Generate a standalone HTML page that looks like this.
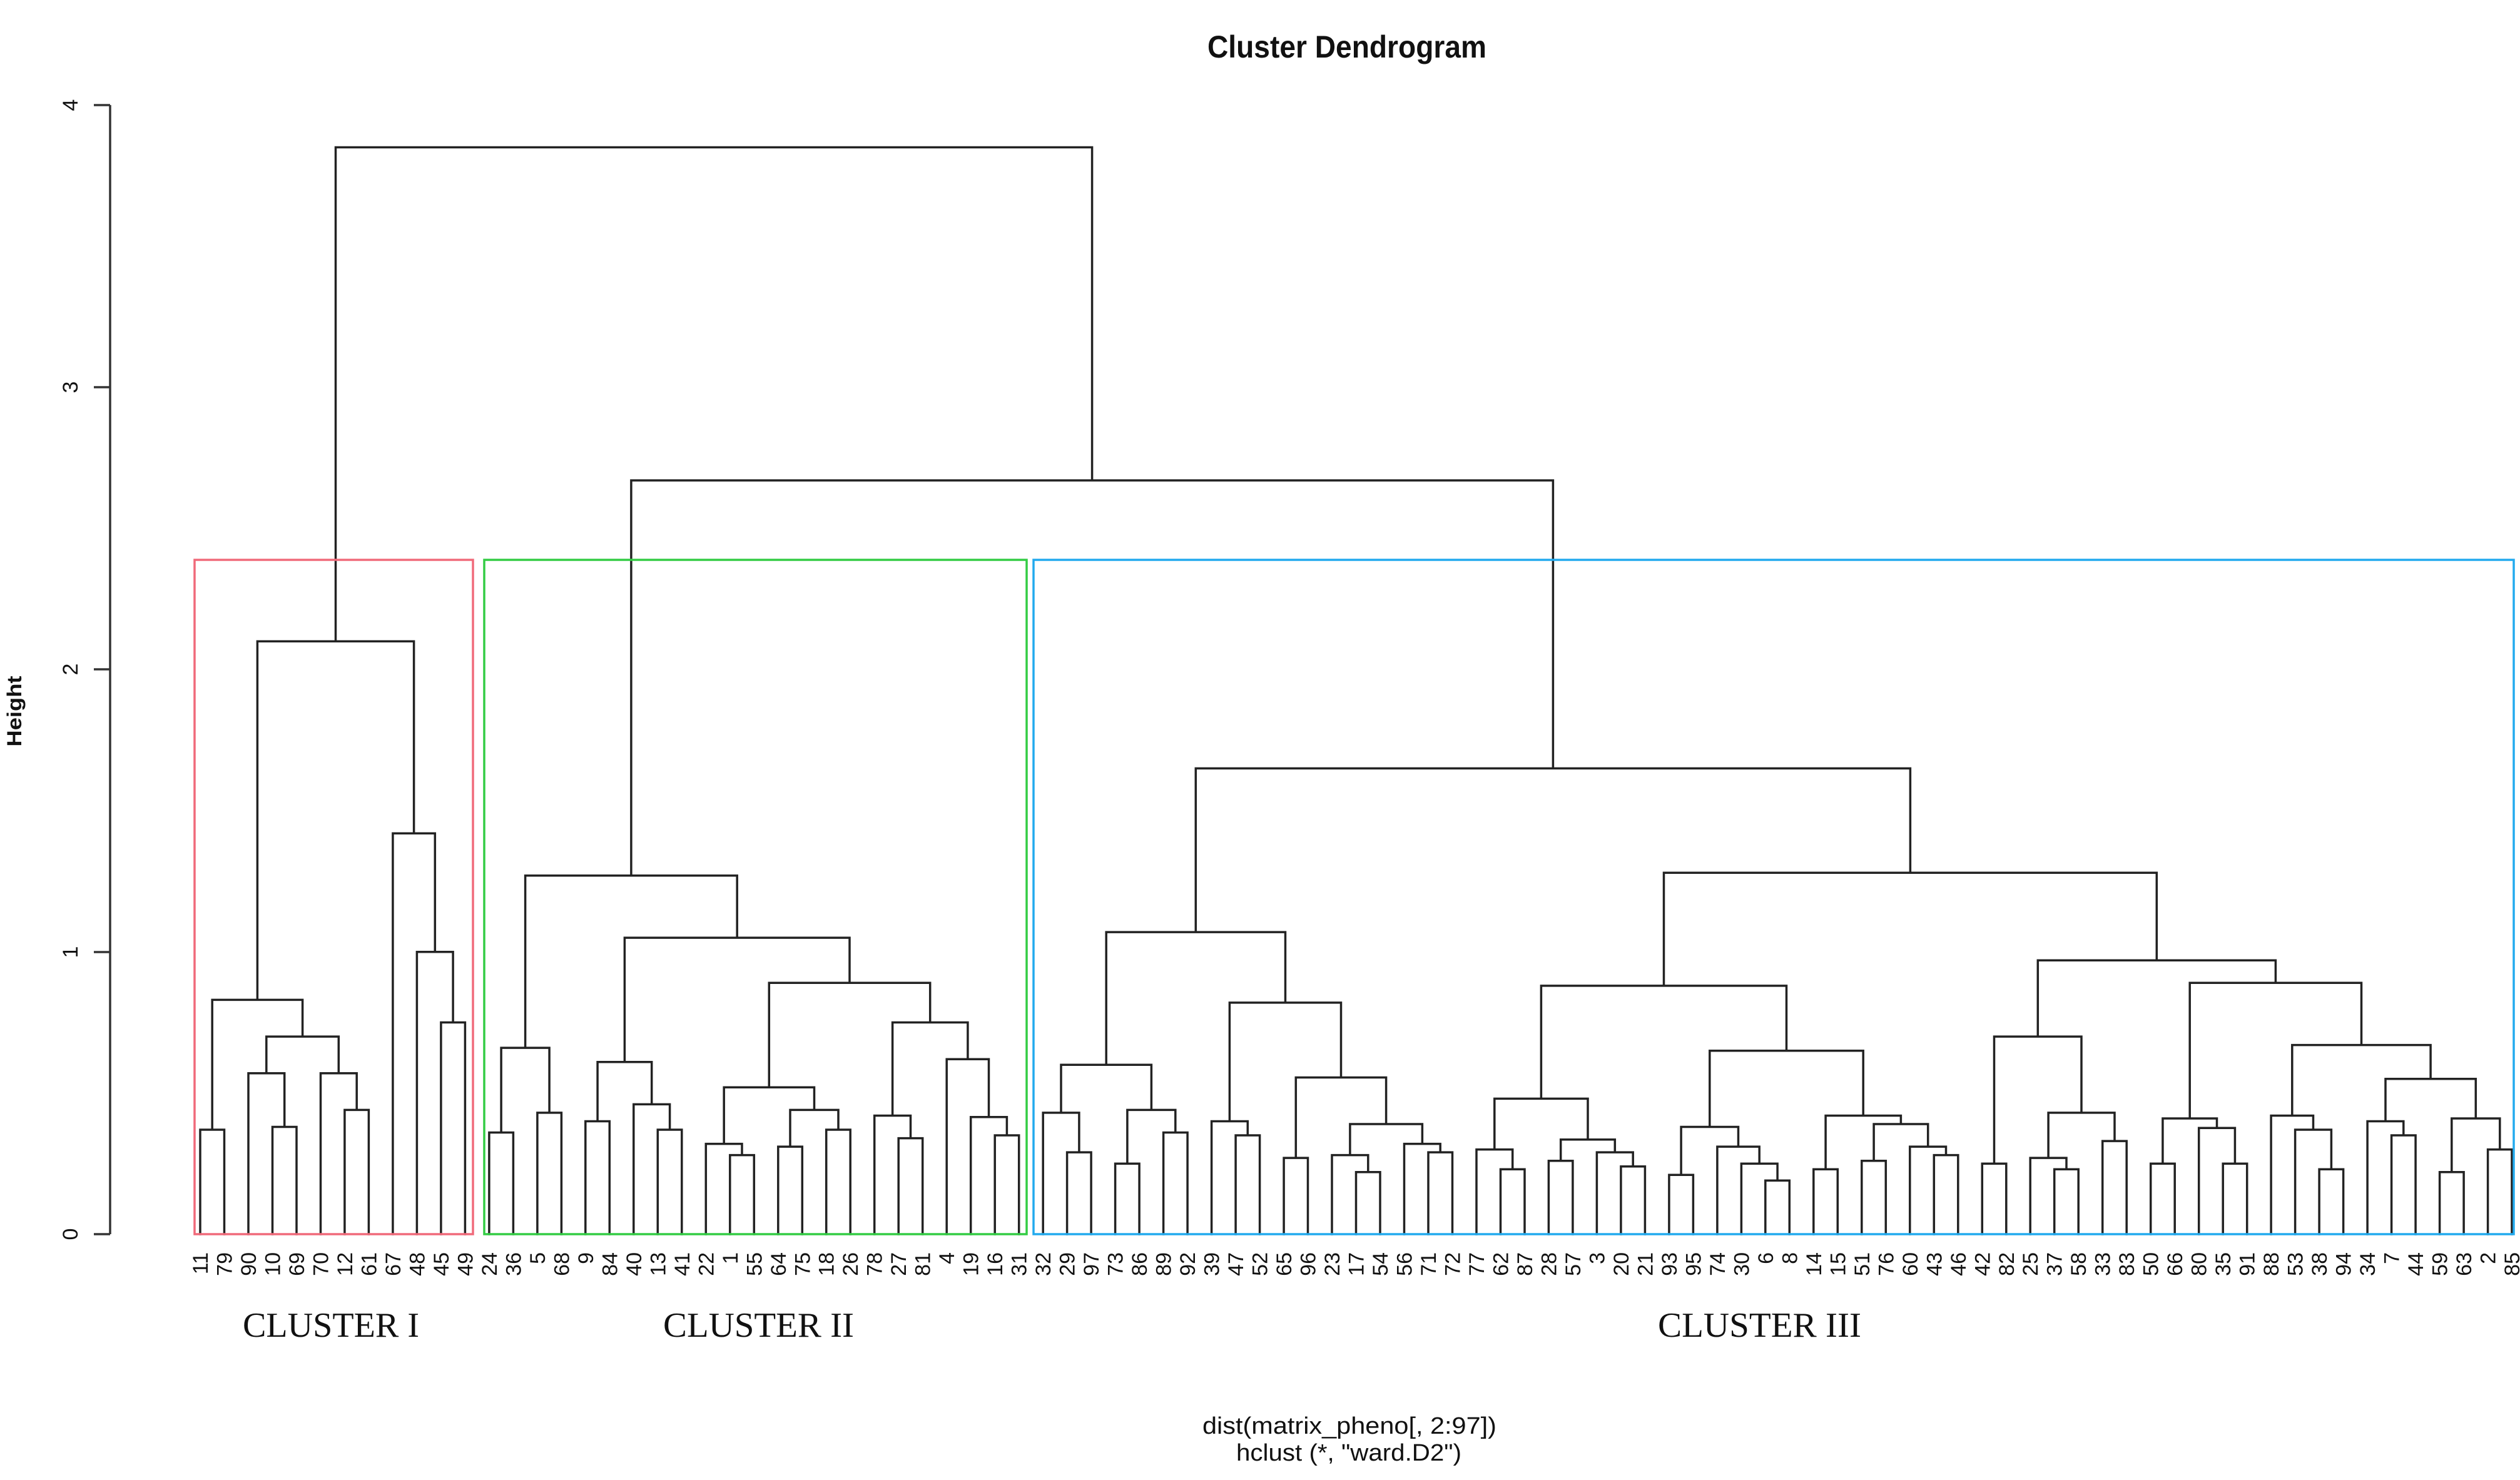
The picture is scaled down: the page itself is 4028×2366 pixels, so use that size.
<!DOCTYPE html>
<html><head><meta charset="utf-8">
<style>
html,body{margin:0;padding:0;background:#fff;}
svg{display:block;}
.lf{font-family:"Liberation Sans",sans-serif;font-size:34px;fill:#111;}
.ax{font-family:"Liberation Sans",sans-serif;font-size:34px;fill:#111;}
.cl{font-family:"Liberation Serif",serif;font-size:56px;fill:#111;}
</style></head>
<body>
<svg id="s" width="4028" height="2366" viewBox="0 0 4028 2366" xmlns="http://www.w3.org/2000/svg">
<rect width="4028" height="2366" fill="#fff"/>
<g id="tree" stroke="#222" stroke-width="3.5" fill="none" stroke-linecap="square"></g>
<rect x="311" y="895" width="445" height="1078" fill="none" stroke="#f06a7a" stroke-width="3.5"/>
<rect x="774" y="895" width="867" height="1078" fill="none" stroke="#33cc44" stroke-width="3.5"/>
<rect x="1652" y="895" width="2366" height="1078" fill="none" stroke="#22aaee" stroke-width="3.5"/>
<!-- axis -->
<g stroke="#333" stroke-width="3.5">
<line x1="176" y1="168" x2="176" y2="1973"/>
<line x1="150" y1="1973" x2="176" y2="1973"/>
<line x1="150" y1="1522" x2="176" y2="1522"/>
<line x1="150" y1="1070" x2="176" y2="1070"/>
<line x1="150" y1="619" x2="176" y2="619"/>
<line x1="150" y1="168" x2="176" y2="168"/>
</g>
<text class="ax" text-anchor="middle" transform="translate(124,1973) rotate(-90)">0</text>
<text class="ax" text-anchor="middle" transform="translate(124,1522) rotate(-90)">1</text>
<text class="ax" text-anchor="middle" transform="translate(124,1070) rotate(-90)">2</text>
<text class="ax" text-anchor="middle" transform="translate(124,619) rotate(-90)">3</text>
<text class="ax" text-anchor="middle" transform="translate(124,168) rotate(-90)">4</text>
<text font-family="Liberation Sans, sans-serif" font-size="32" font-weight="bold" text-anchor="middle" textLength="113" lengthAdjust="spacingAndGlyphs" transform="translate(34,1137) rotate(-90)" fill="#111">Height</text>
<text font-family="Liberation Sans, sans-serif" font-size="50" font-weight="bold" text-anchor="middle" x="2153" y="92" textLength="446" lengthAdjust="spacingAndGlyphs" fill="#111">Cluster Dendrogram</text>
<text font-family="Liberation Sans, sans-serif" font-size="38" text-anchor="middle" x="2157" y="2292" textLength="470" lengthAdjust="spacingAndGlyphs" fill="#111">dist(matrix_pheno[, 2:97])</text>
<text font-family="Liberation Sans, sans-serif" font-size="38" text-anchor="middle" x="2156" y="2335" textLength="360" lengthAdjust="spacingAndGlyphs" fill="#111">hclust (*, "ward.D2")</text>
<text class="cl" x="388" y="2137" textLength="282" lengthAdjust="spacingAndGlyphs">CLUSTER I</text>
<text class="cl" x="1060" y="2137" textLength="305" lengthAdjust="spacingAndGlyphs">CLUSTER II</text>
<text class="cl" x="2650" y="2137" textLength="325" lengthAdjust="spacingAndGlyphs">CLUSTER III</text>
<g id="labels">
<text class="lf" text-anchor="end">11</text><text class="lf" text-anchor="end">79</text><text class="lf" text-anchor="end">90</text><text class="lf" text-anchor="end">10</text><text class="lf" text-anchor="end">69</text><text class="lf" text-anchor="end">70</text><text class="lf" text-anchor="end">12</text><text class="lf" text-anchor="end">61</text><text class="lf" text-anchor="end">67</text><text class="lf" text-anchor="end">48</text><text class="lf" text-anchor="end">45</text><text class="lf" text-anchor="end">49</text>
<text class="lf" text-anchor="end">24</text><text class="lf" text-anchor="end">36</text><text class="lf" text-anchor="end">5</text><text class="lf" text-anchor="end">68</text><text class="lf" text-anchor="end">9</text><text class="lf" text-anchor="end">84</text><text class="lf" text-anchor="end">40</text><text class="lf" text-anchor="end">13</text><text class="lf" text-anchor="end">41</text><text class="lf" text-anchor="end">22</text><text class="lf" text-anchor="end">1</text><text class="lf" text-anchor="end">55</text><text class="lf" text-anchor="end">64</text><text class="lf" text-anchor="end">75</text><text class="lf" text-anchor="end">18</text><text class="lf" text-anchor="end">26</text><text class="lf" text-anchor="end">78</text><text class="lf" text-anchor="end">27</text><text class="lf" text-anchor="end">81</text><text class="lf" text-anchor="end">4</text><text class="lf" text-anchor="end">19</text><text class="lf" text-anchor="end">16</text><text class="lf" text-anchor="end">31</text>
<text class="lf" text-anchor="end">32</text><text class="lf" text-anchor="end">29</text><text class="lf" text-anchor="end">97</text><text class="lf" text-anchor="end">73</text><text class="lf" text-anchor="end">86</text><text class="lf" text-anchor="end">89</text><text class="lf" text-anchor="end">92</text><text class="lf" text-anchor="end">39</text><text class="lf" text-anchor="end">47</text><text class="lf" text-anchor="end">52</text><text class="lf" text-anchor="end">65</text><text class="lf" text-anchor="end">96</text><text class="lf" text-anchor="end">23</text><text class="lf" text-anchor="end">17</text><text class="lf" text-anchor="end">54</text><text class="lf" text-anchor="end">56</text><text class="lf" text-anchor="end">71</text><text class="lf" text-anchor="end">72</text><text class="lf" text-anchor="end">77</text><text class="lf" text-anchor="end">62</text><text class="lf" text-anchor="end">87</text><text class="lf" text-anchor="end">28</text><text class="lf" text-anchor="end">57</text><text class="lf" text-anchor="end">3</text><text class="lf" text-anchor="end">20</text><text class="lf" text-anchor="end">21</text><text class="lf" text-anchor="end">93</text><text class="lf" text-anchor="end">95</text><text class="lf" text-anchor="end">74</text><text class="lf" text-anchor="end">30</text><text class="lf" text-anchor="end">6</text><text class="lf" text-anchor="end">8</text><text class="lf" text-anchor="end">14</text><text class="lf" text-anchor="end">15</text><text class="lf" text-anchor="end">51</text><text class="lf" text-anchor="end">76</text><text class="lf" text-anchor="end">60</text><text class="lf" text-anchor="end">43</text><text class="lf" text-anchor="end">46</text><text class="lf" text-anchor="end">42</text><text class="lf" text-anchor="end">82</text><text class="lf" text-anchor="end">25</text><text class="lf" text-anchor="end">37</text><text class="lf" text-anchor="end">58</text><text class="lf" text-anchor="end">33</text><text class="lf" text-anchor="end">83</text><text class="lf" text-anchor="end">50</text><text class="lf" text-anchor="end">66</text><text class="lf" text-anchor="end">80</text><text class="lf" text-anchor="end">35</text><text class="lf" text-anchor="end">91</text><text class="lf" text-anchor="end">88</text><text class="lf" text-anchor="end">53</text><text class="lf" text-anchor="end">38</text><text class="lf" text-anchor="end">94</text><text class="lf" text-anchor="end">34</text><text class="lf" text-anchor="end">7</text><text class="lf" text-anchor="end">44</text><text class="lf" text-anchor="end">59</text><text class="lf" text-anchor="end">63</text><text class="lf" text-anchor="end">2</text><text class="lf" text-anchor="end">85</text>
</g>
</svg>
<script>
(function(){
var X0=320,DX=38.49,BASE=1973,U=451.3;
function lx(i){return X0+DX*i;}
function yh(h){return BASE-U*h;}
var I=[[[0,1,.37],[[2,[3,4,.38],.57],[5,[6,7,.44],.57],.70],.83],[8,[9,[10,11,.75],1.0],1.42],2.10];
var A=[[12,13,.36],[14,15,.43],.66];
var B=[[16,17,.40],[18,[19,20,.37],.46],.61];
var C=[[21,[22,23,.28],.32],[[24,25,.31],[26,27,.37],.44],.52];
var D=[[28,[29,30,.34],.42],[31,[32,[33,34,.35],.415],.62],.75];
var II=[A,[B,[C,D,.89],1.05],1.27];
var P1=[[35,[36,37,.29],.43],[[38,39,.25],[40,41,.36],.44],.60];
var X=[[47,[48,49,.22],.28],[50,[51,52,.29],.32],.39];
var P2=[[42,[43,44,.35],.40],[[45,46,.27],X,.555],.82];
var P=[P1,P2,1.07];
var R1=[[53,[54,55,.23],.30],[[56,57,.26],[58,[59,60,.24],.29],.335],.48];
var R2=[[[61,62,.21],[63,[64,[65,66,.19],.25],.31],.38],[[67,68,.23],[[69,70,.26],[71,[72,73,.28],.31],.39],.42],.65];
var R=[R1,R2,.88];
var S=[[[74,75,.25],[[76,[77,78,.23],.27],[79,80,.33],.43],.70],[[[81,82,.25],[83,[84,85,.25],.376],.41],[[86,[87,[88,89,.23],.37],.42],[[90,[91,92,.35],.40],[[93,94,.22],[95,96,.30],.41],.55],.67],.89],.97];
var Q=[R,S,1.28];
var III=[P,Q,1.65];
var ROOT=[I,[II,III,2.67],3.85];
var g=document.getElementById('tree'),d='';
function walk(n){
 if(typeof n==='number')return [lx(n),0];
 var a=walk(n[0]),b=walk(n[1]),h=n[2],y=yh(h);
 d+='M'+a[0].toFixed(1)+' '+yh(a[1]).toFixed(1)+'V'+y.toFixed(1)+'H'+b[0].toFixed(1)+'V'+yh(b[1]).toFixed(1);
 return [(a[0]+b[0])/2,h];
}
walk(ROOT);
var p=document.createElementNS('http://www.w3.org/2000/svg','path');
p.setAttribute('d',d);g.appendChild(p);
var t=document.getElementById('labels').getElementsByTagName('text');
for(var i=0;i<t.length;i++){t[i].setAttribute('transform','translate('+(lx(i)+12).toFixed(1)+',2002) rotate(-90)');}
})();
</script>
</body></html>
